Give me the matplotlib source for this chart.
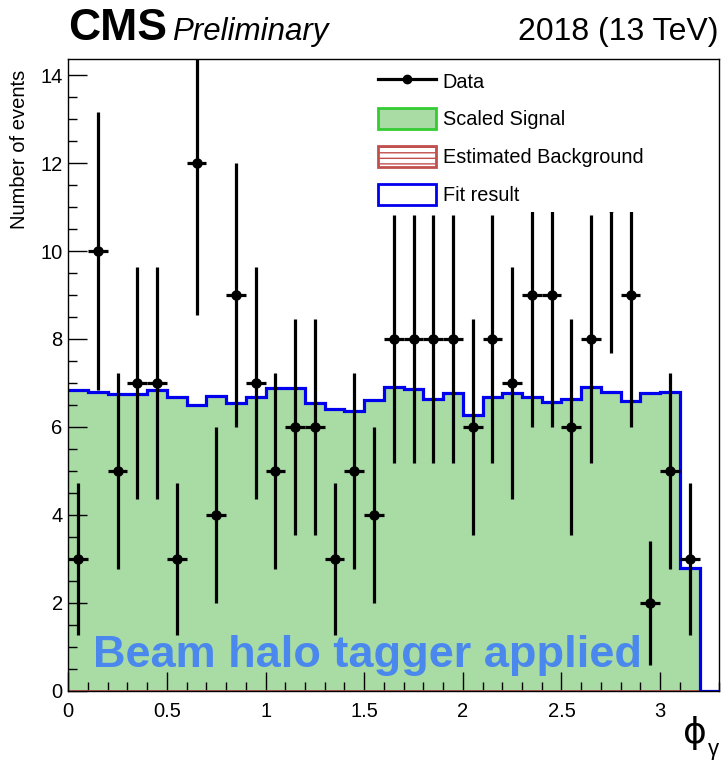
import numpy as np
import matplotlib
matplotlib.use("Agg")
import matplotlib.pyplot as plt
from matplotlib.lines import Line2D
from matplotlib.patches import Patch, Rectangle

plt.rcParams['font.family'] = ['Liberation Sans', 'DejaVu Sans']
plt.rcParams['hatch.linewidth'] = 1.0

# ---------------- data ----------------
bin_width = 0.1
n_bins = 33
phi_edges = np.round(np.arange(n_bins + 1) * bin_width, 2)
phi_centers = np.round(phi_edges[:-1] + bin_width / 2, 3)

data_counts = [3, 10, 5, 7, 7, 3, 12, 4, 9, 7, 5, 6, 6, 3, 5, 4,
               8, 8, 8, 8, 6, 8, 7, 9, 9, 6, 8, 11, 9, 2, 5, 3]

signal_values = [6.83, 6.79, 6.75, 6.75, 6.83, 6.67, 6.50, 6.71, 6.54, 6.67,
                 6.88, 6.88, 6.54, 6.41, 6.37, 6.62, 6.90, 6.86, 6.64, 6.77,
                 6.28, 6.69, 6.77, 6.69, 6.56, 6.64, 6.90, 6.79, 6.58, 6.78,
                 6.79, 2.80, 0.0]
background_values = [0.0] * 33
fit_values = list(np.array(signal_values) + np.array(background_values))

x_ticks = [0, 0.5, 1, 1.5, 2, 2.5, 3]
x_tick_labels = ["0", "0.5", "1", "1.5", "2", "2.5", "3"]
y_ticks = [0, 2, 4, 6, 8, 10, 12, 14]
y_tick_labels = ["0", "2", "4", "6", "8", "10", "12", "14"]

# ---------------- figure ----------------
W, H = 722, 763
fig = plt.figure(figsize=(W / 100, H / 100), dpi=100)
ax = fig.add_axes([68.3 / W, 1 - 690.7 / H, (719.3 - 68.3) / W, (690.7 - 59.3) / H])

ax.set_xlim(0, 3.3)
ax.set_ylim(0, 14.36)

# signal (green filled)
ax.stairs(signal_values, phi_edges, fill=True, facecolor='#a9dba5',
          edgecolor='none', zorder=1)
# background (red)
ax.stairs(background_values, phi_edges, color='#c0504d', lw=2.0, zorder=2,
          baseline=None)
# fit result (blue)
ax.stairs(fit_values, phi_edges, color='#0000ee', lw=2.3, zorder=3,
          baseline=None)

# data points
counts = np.array(data_counts, dtype=float)
ax.errorbar(phi_centers[:len(counts)], counts, yerr=np.sqrt(counts),
            xerr=bin_width / 2, fmt='o', color='black', ms=6.5,
            elinewidth=2.3, capsize=0, zorder=5)

# ticks
ax.set_xticks(x_ticks)
ax.set_xticklabels(x_tick_labels)
ax.set_yticks(y_ticks)
ax.set_yticklabels(y_tick_labels)
ax.set_xticks(np.round(np.arange(0, 3.31, 0.1), 2), minor=True)
ax.set_yticks(np.arange(0, 14.4, 0.5), minor=True)
ax.tick_params(axis='both', which='major', direction='in', length=14,
               width=1.0, labelsize=14.5, top=False, right=False)
ax.tick_params(axis='both', which='minor', direction='in', length=6.5,
               width=1.0, top=False, right=False)
ax.tick_params(axis='x', which='major', pad=8)
ax.tick_params(axis='y', which='major', pad=4)
for s in ax.spines.values():
    s.set_linewidth(1.0)
    s.set_zorder(10)

# legend background (covers error bars)
ax.add_patch(Rectangle((0.466, 0.758), 0.534, 0.242, transform=ax.transAxes,
                       facecolor='white', edgecolor='none', zorder=8))
handles = [
    Line2D([0], [0], color='black', lw=2.3, marker='o', ms=6),
    Patch(facecolor='#a9dba5', edgecolor='#33cc33', lw=2),
    Patch(facecolor='white', edgecolor='#c0504d', hatch='---', lw=2),
    Patch(facecolor='white', edgecolor='#0000ee', lw=2),
]
labels = ["Data", "Scaled Signal", "Estimated Background", "Fit result"]
leg = ax.legend(handles, labels, loc='upper left',
                bbox_to_anchor=(0.464, 0.995), frameon=False, fontsize=14.3,
                handlelength=2.9, handleheight=1.25, handletextpad=0.35,
                labelspacing=0.84, borderaxespad=0.0)
leg.set_zorder(9)

# annotation text
ax.text(0.125, 0.54, "Beam halo tagger applied", fontsize=32.5,
        weight='bold', color='#4a88ee', va='baseline', ha='left', zorder=6)

# header texts
fig.text(68 / W, 1 - 40 / H, "CMS", fontsize=32, weight='bold',
         ha='left', va='baseline')
fig.text(172 / W, 1 - 40 / H, "Preliminary", fontsize=22.5, style='italic',
         ha='left', va='baseline')
fig.text(718 / W, 1 - 40 / H, "2018 (13 TeV)", fontsize=23,
         ha='right', va='baseline')

# axis labels
fig.text(20 / W, 1 - 70 / H, "Number of events", fontsize=14.5,
         rotation=90, ha='center', va='top')
fig.text(707 / W, 1 - 743 / H, "\u03d5", fontsize=26,
         family=['DejaVu Sans'], ha='right', va='baseline')
fig.text(708 / W, 1 - 755 / H, "\u03b3", fontsize=16,
         ha='left', va='baseline')

fig.savefig("out.png", dpi=100)
